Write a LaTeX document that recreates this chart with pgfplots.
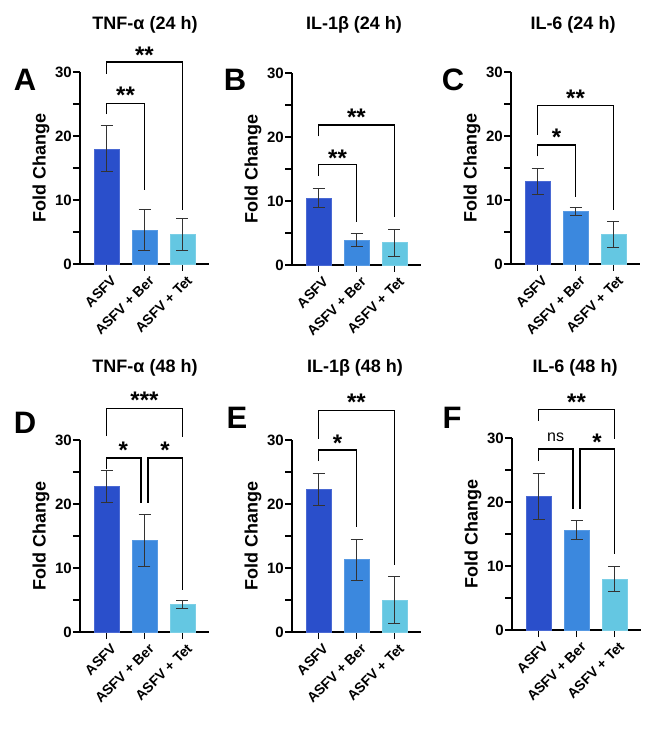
\documentclass[border=0pt]{standalone}
\usepackage{fontspec}
\setmainfont{Liberation Sans}
\usepackage{pgfplots}
\pgfplotsset{compat=1.18}
\definecolor{cA}{HTML}{2A4FCB}
\definecolor{cB}{HTML}{3B88DE}
\definecolor{cC}{HTML}{64C7E2}
\tikzset{ebs/.style={line width=1pt, black!80}}
\pgfplotsset{
  panel/.style={
    scale only axis, width=129pt, height=192pt, anchor=south west,
    xmin=-0.7, xmax=2.7, ymin=0, ymax=30,
    axis x line*=bottom, axis y line*=left,
    axis line style={line width=1.5pt, black},
    ytick={0,10,20,30}, minor ytick={5,15,25},
    xtick={0,1,2}, xticklabels={ASFV, ASFV + Ber, ASFV + Tet},
    tick align=outside, major tick length=7pt, minor tick length=7pt,
    tick style={line width=1.4pt, black},
    /pgf/number format/assume math mode=true,
    yticklabel style={font=\bfseries\fontsize{15}{15}\selectfont, inner sep=1pt},
    xticklabel style={font=\bfseries\fontsize{14}{14}\selectfont, rotate=45, anchor=north east, inner sep=2pt, yshift=-3pt, xshift=2pt},
    ylabel={Fold Change},
    ylabel style={font=\bfseries\fontsize{18}{18}\selectfont, at={(rel axis cs:0,0.5)}, anchor=center, yshift=39pt},
    clip=false,
  },
}
\newcommand{\threebars}[6]{%
  \addplot[ybar, bar width=0.66, bar shift=0pt, fill=cA, draw=cA!85!white, line width=0.5pt,
    error bars/.cd, y dir=both, y explicit, error bar style={ebs},
    error mark=-, error mark options={ebs, rotate=90, mark size=6pt}] coordinates {(0,#1) +- (0,#2)};
  \addplot[ybar, bar width=0.66, bar shift=0pt, fill=cB, draw=cB!85!white, line width=0.5pt,
    error bars/.cd, y dir=both, y explicit, error bar style={ebs},
    error mark=-, error mark options={ebs, rotate=90, mark size=6pt}] coordinates {(1,#3) +- (0,#4)};
  \addplot[ybar, bar width=0.66, bar shift=0pt, fill=cC, draw=cC!85!white, line width=0.5pt,
    error bars/.cd, y dir=both, y explicit, error bar style={ebs},
    error mark=-, error mark options={ebs, rotate=90, mark size=6pt}] coordinates {(2,#5) +- (0,#6)};
}
% bracket: x1, y-left-bottom, y-line, x2, y-right-bottom
\newcommand{\brk}[5]{%
  \draw[line width=1.5pt, black] (axis cs:#1,#2) -- (axis cs:#1,#3) -- (axis cs:#4,#3) -- (axis cs:#4,#5);}
\newcommand{\stars}[3]{%
  \node[anchor=north, inner sep=0pt, yshift=3.6pt, font=\bfseries\fontsize{24}{24}\selectfont] at (axis cs:#1,#2) {#3};}
\tikzset{
  ttl/.style={font=\bfseries\fontsize{18}{18}\selectfont, anchor=center},
  lett/.style={font=\bfseries\fontsize{31}{31}\selectfont, anchor=center},
}
\begin{document}
\begin{tikzpicture}
\useasboundingbox (0pt,0pt) rectangle (669pt,736pt);
% ---------- A ----------
\begin{axis}[panel, at={(80pt,472pt)}]
\threebars{18.0}{3.6}{5.3}{3.2}{4.6}{2.5}
\brk{0}{23.4}{25.1}{1}{11.6}
\stars{0.5}{27.2}{**}
\brk{0}{29.7}{31.6}{2}{8.4}
\stars{1}{33.4}{**}
\end{axis}
% ---------- B ----------
\begin{axis}[panel, at={(292pt,471pt)}]
\threebars{10.5}{1.5}{3.9}{1.0}{3.5}{2.1}
\brk{0}{13.9}{15.7}{1}{6.7}
\stars{0.5}{17.4}{**}
\brk{0}{20.1}{21.9}{2}{7.5}
\stars{1}{23.8}{**}
\end{axis}
% ---------- C ----------
\begin{axis}[panel, at={(511pt,472pt)}]
\threebars{12.9}{2.0}{8.2}{0.6}{4.6}{2.1}
\brk{0}{16.8}{18.6}{1}{10.5}
\stars{0.5}{20.5}{*}
\brk{0}{20.2}{24.8}{2}{8.4}
\stars{1}{26.7}{**}
\end{axis}
% ---------- D ----------
\begin{axis}[panel, at={(80pt,104pt)}]
\threebars{22.7}{2.5}{14.3}{4.0}{4.3}{0.6}
\brk{0}{25.4}{27.2}{0.91}{20.2}
\stars{0.44}{29.2}{*}
\brk{1.09}{20.2}{27.2}{2}{6.6}
\stars{1.54}{29.2}{*}
\brk{0}{30.6}{34.95}{2}{30.4}
\stars{1}{36.9}{***}
\end{axis}
% ---------- E ----------
\begin{axis}[panel, at={(292pt,104pt)}]
\threebars{22.3}{2.5}{11.3}{3.2}{5.0}{3.6}
\brk{0}{26.7}{28.4}{1}{16.35}
\stars{0.5}{30.3}{*}
\brk{0}{30.2}{34.6}{2}{10.5}
\stars{1}{36.6}{**}
\end{axis}
% ---------- F ----------
\begin{axis}[panel, at={(512pt,106pt)}]
\threebars{20.9}{3.6}{15.6}{1.5}{7.95}{2.0}
\brk{0}{26.4}{28.3}{0.91}{18.95}
\node[font=\fontsize{16}{16}\selectfont, anchor=center] at (axis cs:0.45,30.1) {ns};
\brk{1.09}{18.95}{28.3}{2}{11.8}
\stars{1.54}{30.1}{*}
\brk{0}{32.7}{34.45}{2}{29.8}
\stars{1}{36.4}{**}
\end{axis}
% ---------- titles ----------
\node[ttl] at (145pt,711pt) {TNF-α (24 h)};
\node[ttl] at (354pt,711pt) {IL-1β (24 h)};
\node[ttl] at (573pt,711pt) {IL-6 (24 h)};
\node[ttl] at (145pt,368pt) {TNF-α (48 h)};
\node[ttl] at (355pt,368pt) {IL-1β (48 h)};
\node[ttl] at (575pt,368pt) {IL-6 (48 h)};
% ---------- letters ----------
\node[lett] at (25pt,656pt) {A};
\node[lett] at (235pt,656pt) {B};
\node[lett] at (453pt,656pt) {C};
\node[lett] at (25pt,313pt) {D};
\node[lett] at (237pt,318pt) {E};
\node[lett] at (452pt,318pt) {F};
\end{tikzpicture}
\end{document}
